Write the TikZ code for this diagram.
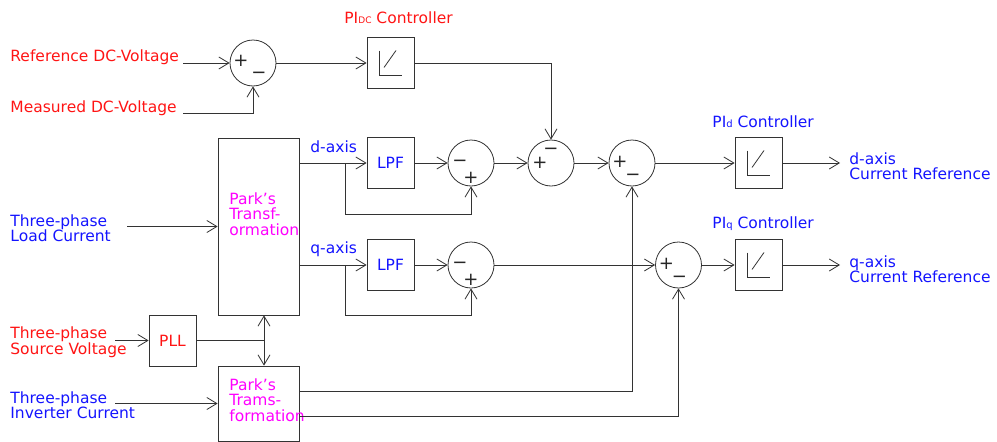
\documentclass[tikz,border=0pt]{standalone}
\usepackage{fontspec}
\setmainfont{DejaVu Sans}
\usetikzlibrary{arrows.meta}
\definecolor{tred}{RGB}{255,20,20}
\definecolor{tblue}{RGB}{20,20,255}
\definecolor{tmag}{RGB}{255,0,255}
\begin{document}
\begin{tikzpicture}[x=1pt,y=-1pt,
  line width=0.8pt,
  every node/.style={inner sep=0pt},
  wire/.style={draw=black!80},
  arr/.style={wire,-{Straight Barb[length=10pt,width=12pt]}},
  box/.style={draw=black!80, minimum width=47pt, minimum height=51pt, font=\fontsize{15.5}{15.5}\selectfont},
  sumc/.style={draw=black!80, circle, minimum size=46pt},
  pibox/.style={box, path picture={
      \draw[black!80] ([shift={(-11.5,-12.5)}]path picture bounding box.center)
        -- ([shift={(-11.5,12.5)}]path picture bounding box.center)
        -- ([shift={(11.5,12.5)}]path picture bounding box.center);
      \draw[black!80] ([shift={(-6.5,4.5)}]path picture bounding box.center)
        -- ([shift={(5.5,-12.5)}]path picture bounding box.center);}},
  lbl/.style={font=\fontsize{15.5}{15.5}\selectfont, align=left},
  sgn/.style={font=\fontsize{18}{18}\selectfont, text=black!85},
]
\useasboundingbox (0,0) rectangle (997,442);

% ---- blocks ----
\node[sumc] (s1) at (253,63) {};
\node[pibox] (pidc) at (390.5,63) {};
\node[box] (park1) at (258.5,226.5) [minimum width=81pt, minimum height=177pt] {};
\node[box, text=tblue] (lpfd) at (390.5,163) {LPF};
\node[box, text=tblue] (lpfq) at (390.5,265) {LPF};
\node[sumc] (sA) at (471,163) {};
\node[sumc] (sB) at (551,163) {};
\node[sumc] (sC) at (632,163) {};
\node[sumc] (sAq) at (471,265) {};
\node[sumc] (sD) at (678.5,265) {};
\node[pibox] (pid) at (758.5,163) {};
\node[pibox] (piq) at (758.5,265) {};
\node[box, text=tred] (pll) at (172.5,340.5) {PLL};
\node[box] (park2) at (258.5,403.5) [minimum width=81pt, minimum height=75pt] {};

% ---- signs ----
\node[sgn] (s1p) at ([shift={(-12,-2)}]s1.center) {+};
\node[sgn] (s1m) at ([shift={(6,12)}]s1.center) {−};
\node[sgn] (sAm) at ([shift={(-11,0)}]sA.center) {−};
\node[sgn] (sAp) at ([shift={(0,15)}]sA.center) {+};
\node[sgn] (sBp) at ([shift={(-11,0)}]sB.center) {+};
\node[sgn] (sBm) at ([shift={(0,-12)}]sB.center) {−};
\node[sgn] (sCp) at ([shift={(-12,-1)}]sC.center) {+};
\node[sgn] (sCm) at ([shift={(1,14)}]sC.center) {−};
\node[sgn] (sAqm) at ([shift={(-11,0)}]sAq.center) {−};
\node[sgn] (sAqp) at ([shift={(0,15)}]sAq.center) {+};
\node[sgn] (sDp) at ([shift={(-12,-1)}]sD.center) {+};
\node[sgn] (sDm) at ([shift={(1,14)}]sD.center) {−};

% ---- labels ----
\node[lbl, anchor=base west, text=tred] (tref) at (10,61) {Reference DC-Voltage};
\node[lbl, anchor=base west, text=tred] (tmeas) at (10,112) {Measured DC-Voltage};
\node[lbl, anchor=base west, text=tred] (tpidc) at (344,23) {PI{\fontsize{9}{9}\selectfont DC} Controller};
\node[lbl, anchor=base west, text=tblue] (tpid) at (712,127) {PI{\fontsize{10}{10}\selectfont d} Controller};
\node[lbl, anchor=base west, text=tblue] (tpiq) at (712,228) {PI{\fontsize{10}{10}\selectfont q} Controller};
\node[lbl, anchor=base west, text=tblue] (tdax) at (310,152) {d-axis};
\node[lbl, anchor=base west, text=tblue] (tqax) at (310,253) {q-axis};
\node[lbl, anchor=west, text=tblue] (tload) at (10,228) {Three-phase\\Load Current};
\node[lbl, anchor=west, text=tred] (tsrc) at (10,342) {Three-phase\\Source Voltage};
\node[lbl, anchor=west, text=tblue] (tinv) at (10,405) {Three-phase\\Inverter Current};
\node[lbl, anchor=west, text=tblue] (tdout) at (849,166) {d-axis\\Current Reference};
\node[lbl, anchor=west, text=tblue] (tqout) at (849,269) {q-axis\\Current Reference};
\node[lbl, anchor=west, text=tmag] (tpark1) at (229,214) {Park’s\\Transf-\\ormation};
\node[lbl, anchor=west, text=tmag] (tpark2) at (229,400) {Park’s\\Trams-\\formation};

% ---- free ends ----
\coordinate (refin) at (183,63);
\coordinate (measin) at (183,113);
\coordinate (loadin) at (127,226.5);
\coordinate (pllin) at (115,340.5);
\coordinate (invin) at (115,403.5);
\coordinate (bd) at (345,163);
\coordinate (bdl) at (345,214);
\coordinate (bq) at (345,265);
\coordinate (bql) at (345,315);
\coordinate (outd) at (840,163);
\coordinate (outq) at (840,265);
\coordinate (pj) at (264,340.5);
\coordinate (p2u) at (299,391);
\coordinate (p2l) at (299,416);

% ---- connectors ----
\draw[arr] (refin) -- (s1);
\draw[arr] (measin) -| (s1);
\draw[arr] (s1) -- (pidc);
\draw[arr] (pidc) -| (sB);
\draw[arr] (park1.east |- lpfd) -- (lpfd);
\draw[wire] (bd) -- (bdl);
\draw[arr] (bdl) -| (sA);
\draw[arr] (lpfd) -- (sA);
\draw[arr] (sA) -- (sB);
\draw[arr] (sB) -- (sC);
\draw[arr] (sC) -- (pid);
\draw[arr] (pid) -- (outd);
\draw[arr] (park1.east |- lpfq) -- (lpfq);
\draw[wire] (bq) -- (bql);
\draw[arr] (bql) -| (sAq);
\draw[arr] (lpfq) -- (sAq);
\draw[arr] (sAq) -- (sD);
\draw[arr] (sD) -- (piq);
\draw[arr] (piq) -- (outq);
\draw[arr] (p2u) -| (sC);
\draw[arr] (p2l) -| (sD);
\draw[arr] (loadin) -- (park1);
\draw[arr] (pllin) -- (pll);
\draw[wire] (pll) -- (pj);
\draw[arr] (pj) -- (park1.south -| pj);
\draw[arr] (pj) -- (park2.north -| pj);
\draw[arr] (invin) -- (park2);
\end{tikzpicture}
\end{document}
